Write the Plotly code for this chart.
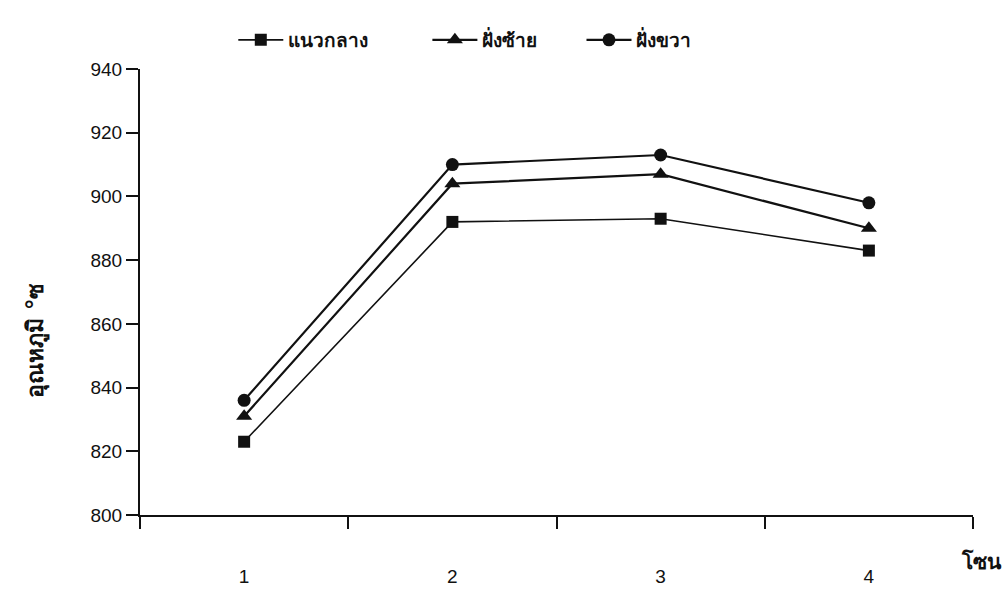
import plotly.graph_objects as go

# Zone temperatures (°C) measured along three lines of the kiln
zones = [1, 2, 3, 4]
zone_labels = ["1", "2", "3", "4"]
center_line = [823, 892, 893, 883]   # แนวกลาง
left_bank = [831, 904, 907, 890]     # ฝั่งซ้าย
right_bank = [836, 910, 913, 898]    # ฝั่งขวา
y_ticks = [800, 820, 840, 860, 880, 900, 920, 940]
zone_bounds = [0.5, 1.5, 2.5, 3.5, 4.5]

INK = "#111111"
THAI_FONT = "DejaVu Sans, Noto Sans, sans-serif"
NUM_FONT = "Liberation Sans, Arial, sans-serif"

fig = go.Figure()

# each series gets its own legend box so the three keys can sit apart
series = [
    ("แนวกลาง", center_line, "square", 12, 1.6, "legend", 0.112),
    ("ฝั่งซ้าย", left_bank, "triangle-up", 14, 2.2, "legend2", 0.345),
    ("ฝั่งขวา", right_bank, "circle", 13, 2.2, "legend3", 0.530),
]
legend_style = {}
for name, values, symbol, size, width, leg, lx in series:
    fig.add_trace(go.Scatter(
        x=zones, y=values, name=name, mode="lines+markers",
        line=dict(color=INK, width=width),
        marker=dict(symbol=symbol, size=size, color=INK),
        legend=leg,
    ))
    legend_style[leg] = dict(
        orientation="h", x=lx, xanchor="left", y=1.065, yanchor="middle",
        itemwidth=45,
        font=dict(family=THAI_FONT, size=19, color=INK, weight="bold"),
        bgcolor="rgba(0,0,0,0)",
    )

fig.update_layout(
    width=1006, height=595,
    margin=dict(l=140, r=33, t=69, b=80),
    paper_bgcolor="white", plot_bgcolor="white",
    showlegend=True,
    font=dict(family=NUM_FONT, size=19, color=INK),
    **legend_style,
)

fig.update_xaxes(
    range=[zone_bounds[0], zone_bounds[-1]],
    tickvals=zones, ticktext=zone_labels, ticks="",
    ticklabelstandoff=43, automargin=False,
    minor=dict(tickvals=zone_bounds, ticks="outside", ticklen=12,
               tickcolor=INK, tickwidth=1.5, showgrid=False),
    showline=True, linecolor=INK, linewidth=2,
    showgrid=False, zeroline=False,
    tickfont=dict(family=NUM_FONT, size=19, color=INK),
)
fig.update_yaxes(
    range=[y_ticks[0], y_ticks[-1]],
    tickvals=y_ticks, ticks="outside", ticklen=12,
    tickcolor=INK, tickwidth=1.5, automargin=False,
    showline=True, linecolor=INK, linewidth=2,
    showgrid=False, zeroline=False,
    tickfont=dict(family=NUM_FONT, size=19, color=INK),
)

# Axis captions
fig.add_annotation(
    text="อุณหภูมิ °ซ", textangle=-90,
    xref="paper", yref="paper", x=-0.125, y=0.392,
    xanchor="center", yanchor="middle", showarrow=False,
    font=dict(family=THAI_FONT, size=23, color=INK, weight="bold"),
)
fig.add_annotation(
    text="โซน", xref="paper", yref="paper", x=1.01, y=-0.105,
    xanchor="center", yanchor="middle", showarrow=False,
    font=dict(family=THAI_FONT, size=21, color=INK, weight="bold"),
)

fig.write_html("out.html")
